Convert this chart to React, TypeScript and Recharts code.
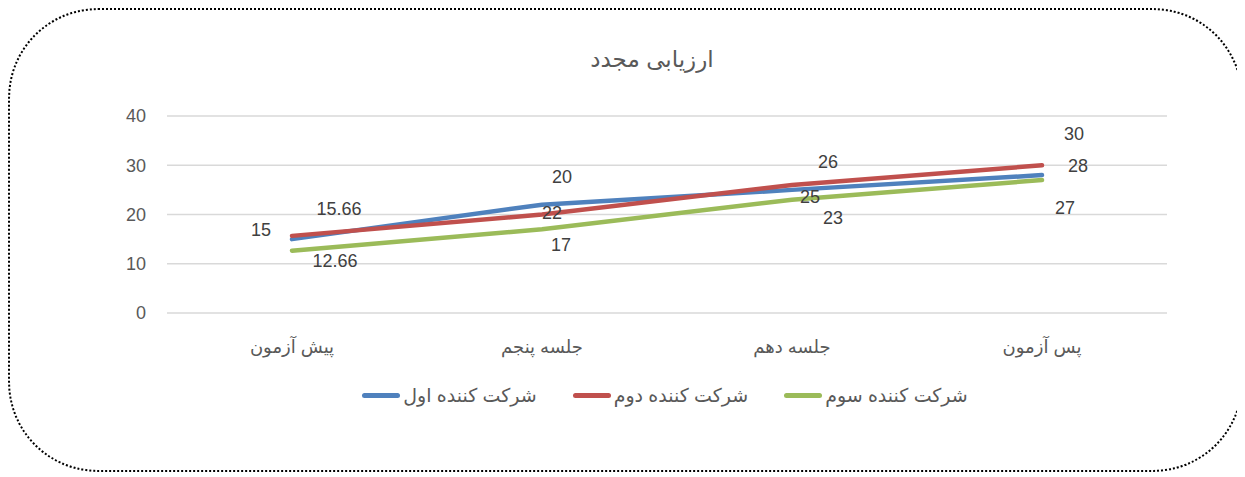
import { LineChart, Line, XAxis, YAxis, CartesianGrid, Legend, LabelList } from "recharts";

const categories = ["پیش آزمون", "جلسه پنجم", "جلسه دهم", "پس آزمون"];
const first = [15, 22, 25, 28];
const second = [15.66, 20, 26, 30];
const third = [12.66, 17, 23, 27];
const yTicks = [0, 10, 20, 30, 40];

const seriesNames = ["شرکت کننده اول", "شرکت کننده دوم", "شرکت کننده سوم"];
const colors = ["#4f81bd", "#c0504d", "#9bbb59"];

// label nudges (relative to the point), roughly where Excel put them
const nudges: number[][][] = [
  [[-31, -9], [10, 8], [18, 7], [36, -9]],
  [[47, -27], [20, -38], [36, -23], [32, -31]],
  [[43, 10], [19, 16], [41, 18], [23, 28]],
];

const data = categories.map((c, i) => ({
  name: c,
  first: first[i],
  second: second[i],
  third: third[i],
}));

const FONT = '"Liberation Sans", "DejaVu Sans", sans-serif';

const makeLabel = (s: number) => (props: any) => {
  const { x, y, value, index } = props;
  const [dx, dy] = nudges[s][index];
  return (
    <text
      x={x + dx}
      y={y + dy}
      textAnchor="middle"
      dominantBaseline="central"
      fontSize={18}
      fill="#404040"
      fontFamily={FONT}
    >
      {value}
    </text>
  );
};

const LegendContent = () => (
  <div style={{ display: "flex", justifyContent: "center", height: 30, alignItems: "center", fontFamily: FONT, fontSize: 19, color: "#595959" }}>
    {seriesNames.map((n, i) => (
      <div key={n} style={{ display: "flex", alignItems: "center", marginRight: i < 2 ? 36 : 0 }}>
        <span style={{ display: "inline-block", width: 38, height: 5, borderRadius: 3, background: colors[i] }} />
        <span style={{ marginLeft: 3 }}>{n}</span>
      </div>
    ))}
  </div>
);

export default function App() {
  return (
    <div
      style={{
        position: "relative",
        width: 1231,
        height: 460,
        border: "2px dotted #000",
        borderRadius: 90,
        background: "#fff",
      }}
    >
      <div
        style={{
          position: "absolute",
          left: 0,
          width: 1284,
          top: 36,
          textAlign: "center",
          fontFamily: FONT,
          fontSize: 23,
          color: "#595959",
        }}
      >
        ارزیابی مجدد
      </div>
      <LineChart width={1231} height={460} data={data} margin={{ top: 106, right: 74, left: 97, bottom: 97 }}>
        <CartesianGrid vertical={false} stroke="#d9d9d9" strokeWidth={1.3} />
        <XAxis
          dataKey="name"
          axisLine={false}
          tickLine={false}
          tickMargin={21}
          height={30}
          interval={0}
          padding={{ left: 125, right: 125 }}
          tick={{ fontSize: 18, fill: "#595959", fontFamily: FONT }}
        />
        <YAxis
          domain={[0, 40]}
          ticks={yTicks}
          axisLine={false}
          tickLine={false}
          tickMargin={15}
          width={60}
          tick={{ fontSize: 18, fill: "#595959", fontFamily: FONT }}
        />
        <Legend
          verticalAlign="bottom"
          content={<LegendContent />}
          wrapperStyle={{ top: 370, bottom: "auto", left: 0, width: 1310 }}
        />
        <Line dataKey="first" name={seriesNames[0]} stroke={colors[0]} strokeWidth={4.5} strokeLinecap="round" dot={false} isAnimationActive={false}>
          <LabelList dataKey="first" content={makeLabel(0)} />
        </Line>
        <Line dataKey="second" name={seriesNames[1]} stroke={colors[1]} strokeWidth={4.5} strokeLinecap="round" dot={false} isAnimationActive={false}>
          <LabelList dataKey="second" content={makeLabel(1)} />
        </Line>
        <Line dataKey="third" name={seriesNames[2]} stroke={colors[2]} strokeWidth={4.5} strokeLinecap="round" dot={false} isAnimationActive={false}>
          <LabelList dataKey="third" content={makeLabel(2)} />
        </Line>
      </LineChart>
    </div>
  );
}
